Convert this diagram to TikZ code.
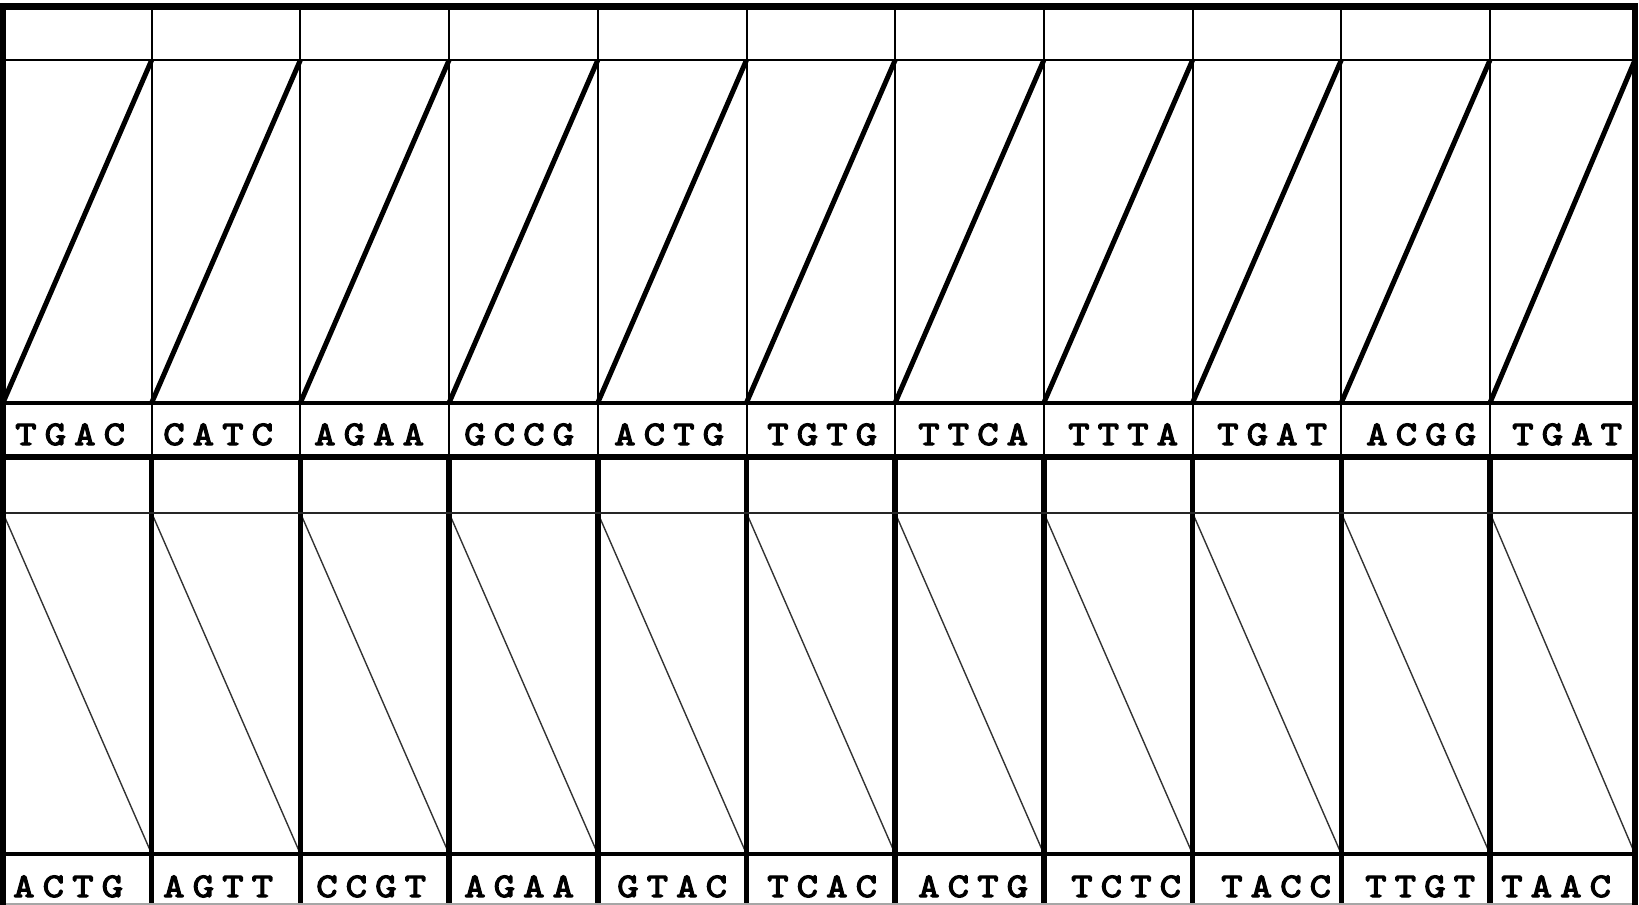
\documentclass[tikz,border=0pt]{standalone}
\usepackage{fontspec}
\newfontfamily\dnafont{lmmono10-regular.otf}[FakeBold=3.5, FakeStretch=1.18]
\newcommand\seqq[1]{\expandafter\seqqaux#1}
\newcommand\seqqaux[4]{\makebox[29.5pt][l]{#1}\makebox[29.5pt][l]{#2}\makebox[29.5pt][l]{#3}#4}
\tikzset{
  thinln/.style={line width=2pt, line cap=rect},
  midln/.style={line width=4pt},
  thickln/.style={line width=5.5pt},
  border/.style={line width=6.5pt},
  updiag/.style={line width=5pt},
  lodiag/.style={line width=1.4pt, draw=black!80},
  lbl/.style={anchor=base west, inner sep=0pt, font=\dnafont\fontsize{34.5}{34.5}\selectfont},
}
\begin{document}
\begin{tikzpicture}[x=1pt,y=-1pt]
\useasboundingbox (0,0) rectangle (1639,905);
% diagonals
\foreach \i in {0,...,10}{
  \pgfmathsetmacro\xa{3+148.7*\i}
  \pgfmathsetmacro\xb{min(3+148.7*(\i+1),1635)}
  \draw[updiag] (\xa,402.7) -- (\xb,60);
  \draw[lodiag] (\xa,513) -- (\xb,854);
}
% vertical separators
\foreach \i in {1,...,10}{
  \pgfmathsetmacro\xa{3+148.7*\i}
  \draw[thinln] (\xa,6) -- (\xa,457);
  \draw[thickln] (\xa,457) -- (\xa,905);
}
% horizontal lines
\draw[thinln] (3,60) -- (1635,60);
\draw[midln] (3,402.7) -- (1635,402.7);
\draw[thinln, draw=black!85] (3,513) -- (1635,513);
\draw[midln] (3,854) -- (1635,854);
\draw[border] (3,457) -- (1635,457);
\draw[line width=1.5pt, draw=black!35] (3,904) -- (1635,904);
% outer border
\draw[border] (3,905) -- (3,6.7) -- (1635,6.7) -- (1635,905);
% labels
\foreach \s/\t [count=\i from 0] in {15/TGAC,163/CATC,314/AGAA,464/GCCG,614/ACTG,767/TGTG,918/TTCA,1068/TTTA,1217/TGAT,1366/ACGG,1512/TGAT}
  \node[lbl] (u\i) at (\s,445) {\seqq{\t}};
\foreach \s/\t [count=\i from 0] in {13/ACTG,163/AGTT,316/CCGT,464/AGAA,617/GTAC,767/TCAC,918/ACTG,1071/TCTC,1221/TACC,1365/TTGT,1501/TAAC}
  \node[lbl] (l\i) at (\s,897) {\seqq{\t}};
\end{tikzpicture}
\end{document}
